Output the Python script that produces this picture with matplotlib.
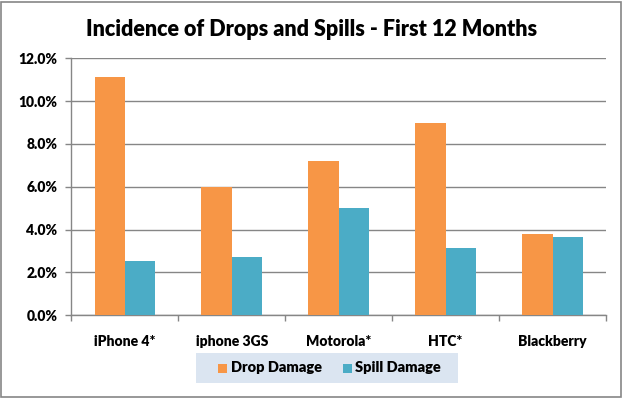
import matplotlib
matplotlib.use("Agg")
import matplotlib.pyplot as plt
import numpy as np
from matplotlib.patches import Rectangle
from matplotlib.ticker import FuncFormatter

categories = ["iPhone 4*", "iphone 3GS", "Motorola*", "HTC*", "Blackberry"]
drop_damage = [11.13, 6.0, 7.2, 8.98, 3.8]
spill_damage = [2.55, 2.72, 5.01, 3.14, 3.65]
series_names = ["Drop Damage", "Spill Damage"]
series_colors = ["#F79646", "#4BACC6"]
title = "Incidence of Drops and Spills - First 12 Months"

plt.rcParams['font.family'] = ['Lato', 'DejaVu Sans']
WT = 'heavy'

W, H = 623, 399
fig = plt.figure(figsize=(6.23, 3.99), dpi=100)
ax = fig.add_axes([0.1145, 0.2098, 0.8582, 0.6442])

x = np.arange(len(categories))
w = 0.283
b1 = ax.bar(x - w/2, drop_damage, w, color=series_colors[0], label=series_names[0], zorder=3)
b2 = ax.bar(x + w/2, spill_damage, w, color=series_colors[1], label=series_names[1], zorder=3)

ax.set_ylim(0, 12)
ax.set_xlim(-0.5, len(categories) - 0.5)
ax.set_yticks(np.arange(0, 12.1, 2))
ax.yaxis.set_major_formatter(FuncFormatter(lambda v, p: f"{v:.1f}%"))
ax.grid(axis='y', color="#868686", linewidth=1.0, zorder=0)
ax.set_xticks(x)
ax.set_xticklabels(categories, fontweight=WT, fontsize=10)
ax.set_xticks(np.arange(-0.5, len(categories), 1), minor=True)
ax.tick_params(axis='x', which='major', length=0, pad=14)
ax.tick_params(axis='x', which='minor', length=4, color="#868686", width=1)
ax.tick_params(axis='y', length=4, color="#868686", width=1, pad=6)
for lbl in ax.get_yticklabels():
    lbl.set_fontweight(WT)
    lbl.set_fontsize(10)
for s in ['top', 'right']:
    ax.spines[s].set_visible(False)
for s in ['left', 'bottom']:
    ax.spines[s].set_color("#868686")
    ax.spines[s].set_linewidth(1.0)

fig.text(0.5, 0.925, title, ha='center', va='center', fontsize=15.5, fontweight=WT)

# legend panel
fig.patches.append(Rectangle((196 / W, 1 - 383 / H), 262 / W, 30 / H, transform=fig.transFigure,
                             facecolor="#DBE5F1", edgecolor="none", zorder=0))
yc = 1 - 368 / H
for sx, tx, name, col in zip([218, 343], [231, 355], series_names, series_colors):
    fig.patches.append(Rectangle((sx / W, yc - 4.5 / H), 9 / W, 9 / H,
                                 transform=fig.transFigure, facecolor=col,
                                 edgecolor="none", zorder=2))
    fig.text(tx / W, yc, name, ha='left', va='center', fontsize=10.5, fontweight=WT)

fig.patches.append(Rectangle((0.002, 0.004), 0.994, 0.99, transform=fig.transFigure,
                             fill=False, edgecolor="#868686", linewidth=1.2))

fig.savefig("out.png", dpi=100)
